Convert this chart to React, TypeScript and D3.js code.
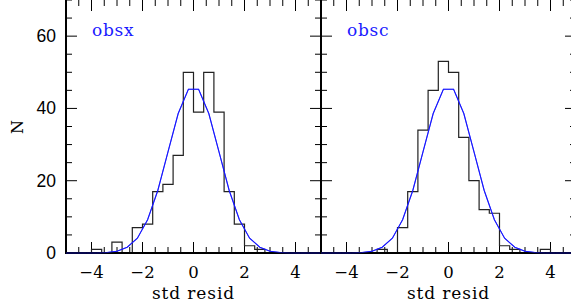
import React from 'react';
import * as d3 from 'd3';

// bin edges (std resid), 0.4 wide
const binEdges = [-4.0, -3.6, -3.2, -2.8, -2.4, -2.0, -1.6, -1.2, -0.8, -0.4, 0, 0.4, 0.8, 1.2, 1.6, 2.0, 2.4, 2.8, 3.2, 3.6, 4.0, 4.4];
const countsX = [1, 0, 3, 0, 7, 8, 17, 19, 27, 50, 39, 50, 39, 17, 8, 2, 1, 0, 0, 0, 0];
const countsC = [0, 0, 0, 1, 0, 7, 17, 34, 45, 53, 50, 32, 20, 12, 11, 2, 1, 0, 0, 1, 0];

// gaussian model read at bin centres
const modelX = [-5, -4.6, -4.2, -3.8, -3.4, -3.0, -2.6, -2.2, -1.8, -1.4, -1.0, -0.6, -0.2, 0.2, 0.6, 1.0, 1.4, 1.8, 2.2, 2.6, 3.0, 3.4, 3.8, 4.2, 4.6, 5];
const modelY = [0, 0, 0, 0, 0.1, 0.5, 1.6, 4.1, 9.2, 17.3, 28.0, 38.6, 45.3, 45.3, 38.6, 28.0, 17.3, 9.2, 4.1, 1.6, 0.5, 0.1, 0, 0, 0, 0];

const xTicks = [-4, -2, 0, 2, 4];
const yTicks = [0, 20, 40, 60];
const panels = [
  { name: 'obsx', counts: countsX },
  { name: 'obsc', counts: countsC },
];

const W = 571;
const H = 308;
const left = 66;
const pw = 255;
const top = 0;
const bottom = 253;
const serif = '"DejaVu Serif", serif';
const sans = '"Liberation Sans", Arial, sans-serif';

const y = d3.scaleLinear().domain([0, 70]).range([bottom, top]);

function Panel({ i, name, counts }: { i: number; name: string; counts: number[] }) {
  const x0 = left + i * pw;
  const x = d3.scaleLinear().domain([-5, 5]).range([x0, x0 + pw]);

  let d = `M${x(binEdges[0])},${y(0)}`;
  counts.forEach((c, k) => {
    d += `V${y(c)}H${x(binEdges[k + 1])}`;
  });
  d += `V${y(0)}`;

  const model = d3.line<number>()
    .x((_, k) => x(modelX[k]))
    .y((v) => y(v))(modelY) as string;

  const minorX = d3.range(-5, 5.001, 0.5);
  const minorY = d3.range(0, 70.001, 5);

  return (
    <g>
      {minorX.map((v) => {
        const major = Math.abs(v % 2) < 1e-6;
        const len = major ? 11 : 6;
        return (
          <g key={'x' + v}>
            <line x1={x(v)} x2={x(v)} y1={bottom} y2={bottom - len} stroke="#000" />
            <line x1={x(v)} x2={x(v)} y1={top} y2={top + len} stroke="#000" />
          </g>
        );
      })}
      {minorY.map((v) => {
        const major = v % 20 === 0;
        const len = major ? 11 : 6;
        return (
          <g key={'y' + v}>
            <line x1={x0} x2={x0 + len} y1={y(v)} y2={y(v)} stroke="#000" />
            <line x1={x0 + pw} x2={x0 + pw - len} y1={y(v)} y2={y(v)} stroke="#000" />
          </g>
        );
      })}
      <path d={d} fill="none" stroke="#222" strokeWidth={1.2} />
      <path d={model} fill="none" stroke="#1515ff" strokeWidth={1.1} />
      <line x1={x0} x2={x0} y1={top - 2} y2={bottom + 1} stroke="#000" strokeWidth={2} />
      <line x1={x0 + pw} x2={x0 + pw} y1={top - 2} y2={bottom + 1} stroke="#000" strokeWidth={2} />
      <line x1={x0 - 1} x2={x0 + pw + 1} y1={bottom} y2={bottom} stroke="#000" strokeWidth={2} />
      <path d={model} fill="none" stroke="#1515ff" strokeWidth={1} opacity={0.6} />
      {xTicks.map((v) => (
        <text key={v} x={x(v)} y={278} textAnchor="middle" fontFamily={serif} fontSize={16.5}>
          {v < 0 ? '\u2212' + Math.abs(v) : v}
        </text>
      ))}
      <text x={x(0)} y={299} textAnchor="middle" fontFamily={serif} fontSize={17} letterSpacing={0.9}>
        std resid
      </text>
      <text x={x0 + 26} y={36} fontFamily={serif} fontSize={17} fill="#1a1aff" letterSpacing={0.7}>
        {name}
      </text>
    </g>
  );
}

export default function App() {
  return (
    <svg width={W} height={H} style={{ position: 'absolute', left: 0, top: 0, background: '#fff' }}>
      {panels.map((p, i) => (
        <Panel key={p.name} i={i} name={p.name} counts={p.counts} />
      ))}
      {yTicks.map((v) => (
        <text key={v} x={56} y={y(v) + 6} textAnchor="end" fontFamily={sans} fontSize={17.5}>
          {v}
        </text>
      ))}
      <text transform="translate(23,127) rotate(-90)" textAnchor="middle" fontFamily={serif} fontSize={16}>
        N
      </text>
    </svg>
  );
}
